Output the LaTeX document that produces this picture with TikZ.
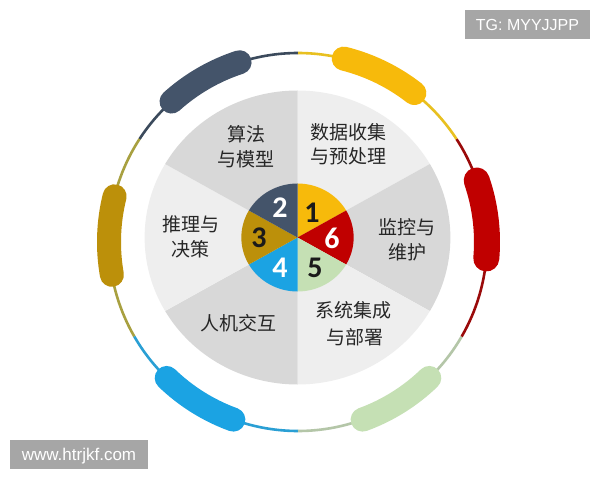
\documentclass[tikz,border=0pt]{standalone}
\usepackage{fontspec}
\newfontfamily\cjk{Noto Sans CJK SC}
\newfontfamily\numfont{Carlito}
\newfontfamily\wmfont{Liberation Sans}
\definecolor{lightg}{HTML}{EEEEEE}
\definecolor{darkg}{HTML}{D8D8D8}
\definecolor{labcol}{HTML}{262626}
\definecolor{cyellow}{HTML}{F7BA0B}
\definecolor{cred}{HTML}{C00000}
\definecolor{cgreen}{HTML}{C5E0B4}
\definecolor{cblue}{HTML}{1BA3E3}
\definecolor{cgold}{HTML}{BC900A}
\definecolor{cslate}{HTML}{44546A}
\definecolor{tyellow}{HTML}{E8C020}
\definecolor{tred}{HTML}{9A0A0A}
\definecolor{tgreen}{HTML}{B4C6A8}
\definecolor{tblue}{HTML}{2A9FD4}
\definecolor{tgold}{HTML}{A8A040}
\definecolor{tslate}{HTML}{3B4A5C}
\definecolor{wmgray}{HTML}{A6A6A6}
\definecolor{numdark}{HTML}{1A1A1A}
\begin{document}
\begin{tikzpicture}[x=1pt,y=1pt,
  lab/.style={font=\cjk\fontsize{19}{25}\selectfont, text=labcol, anchor=base, inner sep=0pt},
  num/.style={font=\numfont\bfseries\fontsize{30}{30}\selectfont, anchor=base, inner sep=0pt},
  blob/.style={line width=24pt, line cap=round},
  ringline/.style={line width=2.6pt},
  wm/.style={fill=wmgray, text=white, inner sep=0pt, text depth=0pt, anchor=center}]
\useasboundingbox (0,0) rectangle (600,480);
\fill[white] (0,0) rectangle (600,480);

% big gray pie and inner coloured pie
\begin{scope}[shift={(297.5,242.5)}, xscale=1.04]
  \foreach \a/\c in {90/lightg, 30/darkg, -30/lightg, -90/darkg, -150/lightg, 150/darkg}
    \fill[\c] (0,0) -- (\a:147) arc[start angle=\a, end angle=\a-60, radius=147] -- cycle;
  \foreach \a/\c in {90/cyellow, 30/cred, -30/cgreen, -90/cblue, -150/cgold, 150/cslate}
    \fill[\c] (0,0) -- (\a:54) arc[start angle=\a, end angle=\a-60, radius=54] -- cycle;
\end{scope}

% outer ring
\begin{scope}[shift={(298,238)}]
  \draw[ringline, tslate]  (90:189)  arc[start angle=90,  end angle=147, radius=189];
  \draw[ringline, tgold]   (147:189) arc[start angle=147, end angle=210, radius=189];
  \draw[ringline, tblue]   (210:189) arc[start angle=210, end angle=270, radius=189];
  \draw[ringline, tgreen]  (270:189) arc[start angle=270, end angle=330, radius=189];
  \draw[ringline, tred]    (330:189) arc[start angle=330, end angle=393, radius=189];
  \draw[ringline, tyellow] (33:189)  arc[start angle=33,  end angle=90,  radius=189];
  \draw[blob, cyellow] (52:189)  arc[start angle=52,  end angle=76,  radius=189];
  \draw[blob, cred, line width=26pt] (-5:189) arc[start angle=-5, end angle=19, radius=189];
  \draw[blob, cgreen]  (-70:189) arc[start angle=-70, end angle=-46, radius=189];
  \draw[blob, cblue]   (-134:189) arc[start angle=-134, end angle=-110, radius=189];
  \draw[blob, cgold]   (166:189) arc[start angle=166, end angle=190, radius=189];
  \draw[blob, cslate]  (108:189) arc[start angle=108, end angle=132, radius=189];
\end{scope}

% sector labels
\node[lab] (l2a) at (246,338) {算法};
\node[lab] (l2b) at (246,313) {与模型};
\node[lab] (l1a) at (348,340) {数据收集};
\node[lab] (l1b) at (348,316) {与预处理};
\node[lab] (l6a) at (407,245) {监控与};
\node[lab] (l6b) at (407,220) {维护};
\node[lab] (l3a) at (191,248) {推理与};
\node[lab] (l3b) at (190,223) {决策};
\node[lab] (l4a) at (238,150) {人机交互};
\node[lab] (l5a) at (353,163) {系统集成};
\node[lab] (l5b) at (355,136) {与部署};

% numbers
\node[num, text=white]   (n2) at (280,262.5) {2};
\node[num, text=numdark] (n1) at (312,257.5) {1};
\node[num, text=white]   (n6) at (332,231.5) {6};
\node[num, text=numdark] (n5) at (315,202.5) {5};
\node[num, text=white]   (n4) at (280,202.5) {4};
\node[num, text=numdark] (n3) at (259,232.5) {3};

% watermark boxes
\node[wm, minimum width=125pt, minimum height=29pt, font=\wmfont\fontsize{16}{16}\selectfont] (tg) at (527.5,455.5) {TG: MYYJJPP};
\node[wm, minimum width=138pt, minimum height=29pt, font=\wmfont\fontsize{17}{17}\selectfont] (www) at (79,25.5) {www.htrjkf.com};
\end{tikzpicture}
\end{document}
